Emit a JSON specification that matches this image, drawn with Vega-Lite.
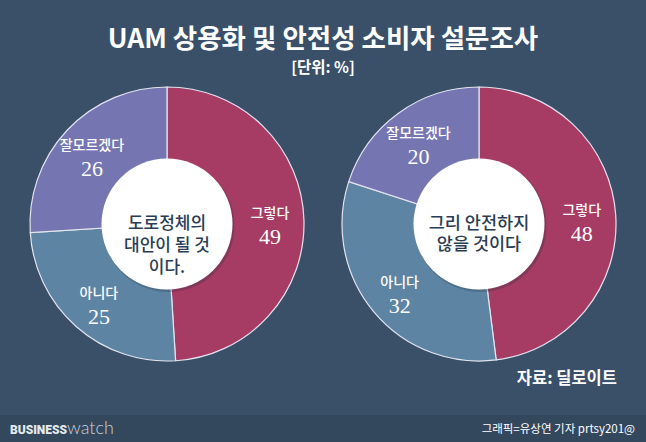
{
  "$schema": "https://vega.github.io/schema/vega-lite/v6.json",
  "background": "#3a5069",
  "padding": {"left": 0, "right": 0, "top": 27, "bottom": 0},
  "config": {"view": {"stroke": null}, "concat": {"spacing": 0}},
  "datasets": {
    "q1": [
      {"answer": "그렇다", "value": 49, "rank": 1},
      {"answer": "아니다", "value": 25, "rank": 2},
      {"answer": "잘모르겠다", "value": 26, "rank": 3}
    ],
    "q2": [
      {"answer": "그렇다", "value": 48, "rank": 1},
      {"answer": "아니다", "value": 32, "rank": 2},
      {"answer": "잘모르겠다", "value": 20, "rank": 3}
    ]
  },
  "spacing": 0,
  "vconcat": [
    {
      "width": 646,
      "height": 0,
      "title": {
        "text": "UAM 상용화 및 안전성 소비자 설문조사",
        "subtitle": "[단위: %]",
        "anchor": "middle",
        "font": "Noto Sans CJK KR",
        "fontSize": 26.5,
        "fontWeight": "bold",
        "color": "white",
        "subtitleFont": "Noto Sans CJK KR",
        "subtitleFontSize": 15.5,
        "subtitleFontWeight": "bold",
        "subtitleColor": "white",
        "subtitlePadding": 7,
        "offset": -12
      },
      "data": {"values": []},
      "mark": {"type": "text"},
      "encoding": {}
    },
    {
      "spacing": 27,
      "vconcat": [
        {
          "spacing": 0,
          "hconcat": [
            {
              "width": 334,
              "height": 276,
              "data": {"name": "q1"},
              "layer": [
                {
                  "mark": {"type": "arc", "outerRadius": 137, "innerRadius": 0, "stroke": "#e2e4ee", "strokeWidth": 1.2},
                  "encoding": {
                    "theta": {"field": "value", "type": "quantitative", "stack": true},
                    "order": {"field": "rank", "type": "quantitative"},
                    "color": {"field": "answer", "type": "nominal", "legend": null,
                      "scale": {"domain": ["그렇다", "아니다", "잘모르겠다"], "range": ["#a63c64", "#5e84a3", "#7576b1"]}}
                  }
                },
                {
                  "data": {"values": [{"q": "도로정체의\n대안이 될 것\n이다."}]},
                  "mark": {"type": "arc", "radius": 66, "theta": 0, "theta2": 6.2832, "fill": "#1c2a3a", "opacity": 0.25, "xOffset": 1.5, "yOffset": 2},
                  "encoding": {}
                },
                {
                  "data": {"values": [{"q": "도로정체의\n대안이 될 것\n이다."}]},
                  "mark": {"type": "arc", "radius": 65.5, "theta": 0, "theta2": 6.2832, "fill": "white"},
                  "encoding": {}
                },
                {
                  "data": {"values": [{"q": "도로정체의\n대안이 될 것\n이다."}]},
                  "mark": {"type": "text", "lineBreak": "\n", "lineHeight": 22, "font": "Noto Sans CJK KR", "fontSize": 17, "fontWeight": 500, "fill": "#2b3d55", "baseline": "middle", "align": "center"},
                  "encoding": {"text": {"field": "q"}}
                },
                {
                  "mark": {"type": "text", "radius": 103, "dy": -7, "font": "Noto Sans CJK KR", "fontSize": 14, "fontWeight": 500, "fill": "white", "baseline": "middle"},
                  "encoding": {
                    "theta": {"field": "value", "type": "quantitative", "stack": true},
                    "order": {"field": "rank", "type": "quantitative"},
                    "text": {"field": "answer"}
                  }
                },
                {
                  "mark": {"type": "text", "radius": 103, "dy": 16, "font": "Liberation Serif", "fontSize": 22, "fill": "white", "baseline": "middle"},
                  "encoding": {
                    "theta": {"field": "value", "type": "quantitative", "stack": true},
                    "order": {"field": "rank", "type": "quantitative"},
                    "text": {"field": "value"}
                  }
                }
              ]
            },
            {
              "width": 290,
              "height": 276,
              "data": {"name": "q2"},
              "title": {"text": "자료: 딜로이트", "orient": "bottom", "anchor": "end", "offset": 8, "dx": -7, "font": "Noto Sans CJK KR", "fontSize": 16.5, "fontWeight": "bold", "color": "white"},
              "layer": [
                {
                  "mark": {"type": "arc", "outerRadius": 137, "innerRadius": 0, "stroke": "#e2e4ee", "strokeWidth": 1.2},
                  "encoding": {
                    "theta": {"field": "value", "type": "quantitative", "stack": true},
                    "order": {"field": "rank", "type": "quantitative"},
                    "color": {"field": "answer", "type": "nominal", "legend": null,
                      "scale": {"domain": ["그렇다", "아니다", "잘모르겠다"], "range": ["#a63c64", "#5e84a3", "#7576b1"]}}
                  }
                },
                {
                  "data": {"values": [{"q": "그리 안전하지\n않을 것이다"}]},
                  "mark": {"type": "arc", "radius": 66, "theta": 0, "theta2": 6.2832, "fill": "#1c2a3a", "opacity": 0.25, "xOffset": 1.5, "yOffset": 2},
                  "encoding": {}
                },
                {
                  "data": {"values": [{"q": "그리 안전하지\n않을 것이다"}]},
                  "mark": {"type": "arc", "radius": 65.5, "theta": 0, "theta2": 6.2832, "fill": "white"},
                  "encoding": {}
                },
                {
                  "data": {"values": [{"q": "그리 안전하지\n않을 것이다"}]},
                  "mark": {"type": "text", "lineBreak": "\n", "lineHeight": 21, "font": "Noto Sans CJK KR", "fontSize": 17.5, "fontWeight": 500, "fill": "#2b3d55", "baseline": "middle", "align": "center"},
                  "encoding": {"text": {"field": "q"}}
                },
                {
                  "mark": {"type": "text", "radius": 103, "dy": -7, "font": "Noto Sans CJK KR", "fontSize": 14, "fontWeight": 500, "fill": "white", "baseline": "middle"},
                  "encoding": {
                    "theta": {"field": "value", "type": "quantitative", "stack": true},
                    "order": {"field": "rank", "type": "quantitative"},
                    "text": {"field": "answer"}
                  }
                },
                {
                  "mark": {"type": "text", "radius": 103, "dy": 16, "font": "Liberation Serif", "fontSize": 22, "fill": "white", "baseline": "middle"},
                  "encoding": {
                    "theta": {"field": "value", "type": "quantitative", "stack": true},
                    "order": {"field": "rank", "type": "quantitative"},
                    "text": {"field": "value"}
                  }
                }
              ]
            }
          ]
        },
        {
          "width": 646,
          "height": 29,
          "view": {"fill": "#33475d", "stroke": null},
          "data": {"values": [
            {"part": "brand", "label": "BUSINESS"},
            {"part": "brand2", "label": "watch"},
            {"part": "credit", "label": "그래픽=유상연 기자 prtsy201@"}
          ]},
          "layer": [
            {
              "transform": [{"filter": "datum.part == 'brand'"}],
              "mark": {"type": "text", "align": "left", "baseline": "middle", "dx": 10, "font": "Roboto", "fontWeight": 900, "fontSize": 12, "fill": "#e6eaee"},
              "encoding": {"x": {"value": 0}, "text": {"field": "label"}}
            },
            {
              "transform": [{"filter": "datum.part == 'brand2'"}],
              "mark": {"type": "text", "align": "left", "baseline": "middle", "dx": 67, "dy": -1, "font": "Lato", "fontWeight": 300, "fontSize": 18, "fill": "#c9d2dc"},
              "encoding": {"x": {"value": 0}, "text": {"field": "label"}}
            },
            {
              "transform": [{"filter": "datum.part == 'credit'"}],
              "mark": {"type": "text", "align": "right", "baseline": "middle", "dx": -11, "font": "Noto Sans CJK KR", "fontSize": 11.5, "fill": "white"},
              "encoding": {"x": {"value": "width"}, "text": {"field": "label"}}
            }
          ]
        }
      ]
    }
  ]
}
